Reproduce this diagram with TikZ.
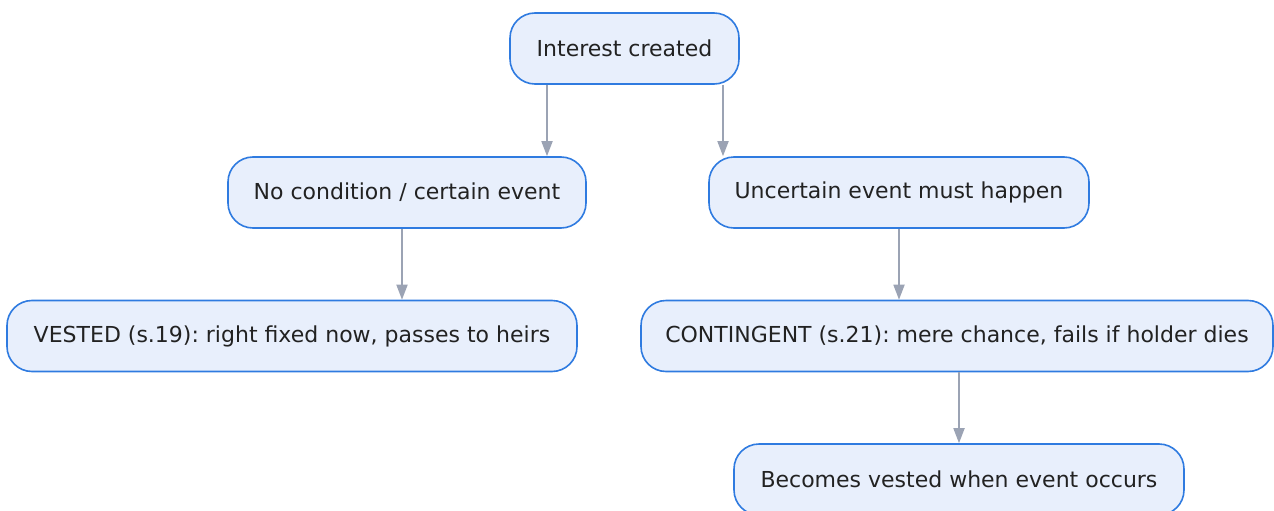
\documentclass[tikz,border=0pt]{standalone}
\usepackage{fontspec}
\setmainfont{DejaVu Sans}
\usetikzlibrary{arrows.meta}
\frenchspacing
\definecolor{boxfill}{HTML}{E8EFFC}
\definecolor{boxline}{HTML}{2F7BE0}
\definecolor{linkgray}{HTML}{9BA3B4}
\definecolor{inkdark}{HTML}{222222}
\tikzset{
  stage/.style={draw=boxline, fill=boxfill, line width=1.6pt, rounded corners=25pt,
    minimum height=71pt, inner sep=0pt, text=inkdark,
    font=\fontsize{22}{26}\selectfont},
  link/.style={draw=linkgray, line width=1.8pt,
    -{Triangle[length=15pt,width=11pt]}}
}
\begin{document}
\begin{tikzpicture}[x=1pt,y=-1pt]
  \useasboundingbox (0,0) rectangle (1274,511);
  \node[stage, minimum width=229pt] (root) at (624.5,48.5) {Interest created};
  \node[stage, minimum width=358pt] (cert) at (407,192.5) {No condition / certain event};
  \node[stage, minimum width=380pt] (unc) at (899,192.5) {Uncertain event must happen};
  \node[stage, minimum width=570pt] (vest) at (292,336) {VESTED (s.19): right fixed now, passes to heirs};
  \node[stage, minimum width=632pt] (cont) at (957,336) {CONTINGENT (s.21): mere chance, fails if holder dies};
  \node[stage, minimum width=450pt] (later) at (959,479.5) {Becomes vested when event occurs};

  \draw[link] ([xshift=-77.5pt]root.south) -- ([xshift=-77.5pt]root.south |- cert.north);
  \draw[link] ([xshift=98.5pt]root.south) -- ([xshift=98.5pt]root.south |- unc.north);
  \draw[link] ([xshift=-5pt]cert.south) -- ([xshift=-5pt]cert.south |- vest.north);
  \draw[link] (unc.south) -- (unc.south |- cont.north);
  \draw[link] ([xshift=2pt]cont.south) -- ([xshift=2pt]cont.south |- later.north);
\end{tikzpicture}
\end{document}
